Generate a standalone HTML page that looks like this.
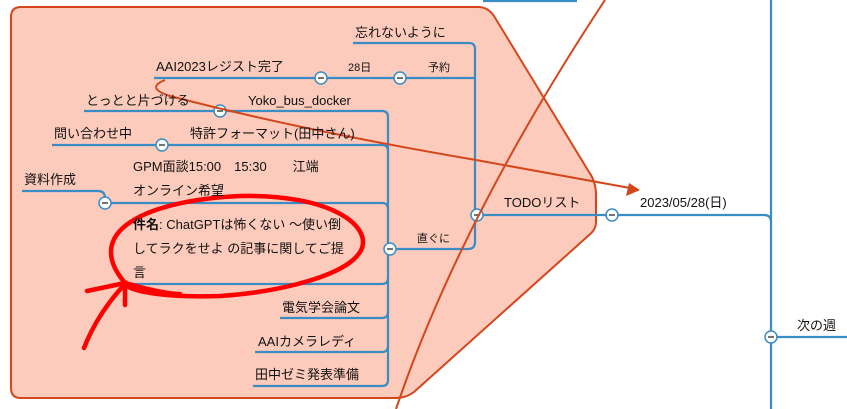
<!DOCTYPE html>
<html><head><meta charset="utf-8"><style>
html,body{margin:0;padding:0;background:#fff;width:847px;height:409px;overflow:hidden}
svg{display:block}
text{font-family:"Liberation Sans","Noto Sans CJK JP",sans-serif;font-size:13px;fill:#111}
</style></head><body>
<svg width="847" height="409" viewBox="0 0 847 409">
<path d="M21,7 L478,7 Q488,7 494,16 L589,172 Q596,182 596,195 L596,222 Q596,230 588,236 L414,392 Q406,398 396,398 L21,398 Q11,398 11,388 L11,17 Q11,7 21,7 Z" fill="#fccbbb" stroke="#d4461c" stroke-width="2"/>
<g fill="none" stroke="#3a8cc4" stroke-width="2.2">
<path d="M483,1 L577,1"/>
<path d="M353,43 L469,43 Q475,43 475,49 L475,242 Q475,249 468,249 L390,249"/>
<path d="M154,78 L475,78"/>
<path d="M84,111 L382,111 Q388,111 388,117 L388,380 Q388,386 382,386 L253,386"/>
<path d="M52,145 L382,145 Q388,145 388,151"/>
<path d="M22,191 L98,191 Q105,191 105,198 L105,203 L382,203 Q388,203 388,209"/>
<path d="M130,284 L382,284 Q388,284 388,278"/>
<path d="M280,318 L382,318 Q388,318 388,312"/>
<path d="M255,352 L382,352 Q388,352 388,346"/>
<path d="M477,215 L764,215 Q771,215 771,222"/>
<path d="M771,0 L771,409"/>
<path d="M771,337 L847,337"/>
</g>
<g fill="#fff" stroke="#3a8cc4" stroke-width="1.5">
<circle cx="321" cy="78" r="6"/><circle cx="400" cy="78" r="6"/>
<circle cx="220" cy="111" r="6"/><circle cx="162" cy="145" r="6"/>
<circle cx="105" cy="203" r="6"/><circle cx="390" cy="249" r="6"/>
<circle cx="477" cy="215" r="6"/><circle cx="612" cy="215" r="6"/>
<circle cx="771" cy="337" r="6"/>
</g>
<g stroke="#222" stroke-width="1.3">
<path d="M318,78h6M397,78h6M217,111h6M159,145h6M102,203h6M387,249h6M474,215h6M609,215h6M768,337h6"/>
</g>
<g fill="none" stroke="#d4461c" stroke-width="2">
<path d="M165,80 Q145,88 170,96 Q300,130 476,160 L630,188"/>
<path d="M396,409 Q460,220 605,0"/>
</g>
<path d="M640,190 L626,196 L629,183 Z" fill="#d4461c"/>
<g fill="none" stroke="#ff0000" stroke-width="4.5" stroke-linecap="round">
<path d="M125,283 C80,230 150,200 240,196 C330,194 370,225 362,248 C352,275 280,292 220,296 C160,298 125,290 125,283"/>
<path d="M84,348 C95,320 110,300 125,284"/>
<path d="M87,291 L125,283 L125,305"/>
<path d="M125,283 C150,290 170,294 180,294"/>
</g>
<text x="355" y="37">忘れないように</text>
<text x="156" y="71">AAI2023レジスト完了</text>
<text x="348" y="71" style="font-size:11px">28日</text>
<text x="428" y="71" style="font-size:11px">予約</text>
<text x="86" y="105">とっとと片づける</text>
<text x="248" y="105">Yoko_bus_docker</text>
<text x="54" y="138">問い合わせ中</text>
<text x="190" y="138">特許フォーマット(田中さん)</text>
<text x="133" y="171">GPM面談15:00　15:30　　江端</text>
<text x="24" y="184">資料作成</text>
<text x="133" y="195">オンライン希望</text>
<text x="133" y="229"><tspan font-weight="bold">件名</tspan>: ChatGPTは怖くない ～使い倒</text>
<text x="133" y="253">してラクをせよ の記事に関してご提</text>
<text x="133" y="277">言</text>
<text x="417" y="242" style="font-size:11px">直ぐに</text>
<text x="282" y="312">電気学会論文</text>
<text x="258" y="346">AAIカメラレディ</text>
<text x="255" y="379">田中ゼミ発表準備</text>
<text x="504" y="207">TODOリスト</text>
<text x="640" y="207">2023/05/28(日)</text>
<text x="797" y="330">次の週</text>
</svg>
</body></html>
